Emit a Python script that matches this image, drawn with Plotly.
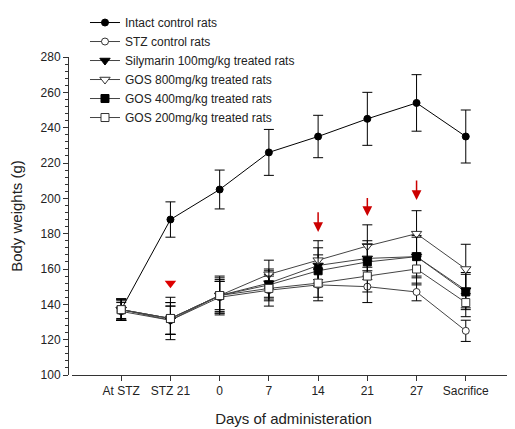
import plotly.graph_objects as go

categories = ["At STZ", "STZ 21", "0", "7", "14", "21", "27", "Sacrifice"]

intact = [137, 188, 205, 226, 235, 245, 254, 235]
intact_err = [6, 10, 11, 13, 12, 15, 16, 15]
stz = [136, 131, 144, 148, 151, 150, 147, 125]
stz_err = [5, 8, 9, 9, 9, 9, 5, 6]
silymarin = [137, 131, 145, 152, 162, 166, 167, 148]
silymarin_err = [6, 8, 8, 8, 10, 10, 12, 10]
gos800 = [137, 132, 145, 157, 165, 173, 180, 160]
gos800_err = [5, 12, 11, 8, 11, 12, 13, 14]
gos400 = [137, 132, 145, 151, 159, 164, 167, 147]
gos400_err = [6, 9, 10, 8, 9, 10, 11, 10]
gos200 = [137, 132, 145, 149, 152, 156, 160, 141]
gos200_err = [6, 9, 9, 7, 8, 9, 9, 8]

marker_cat = ["STZ 21"]
marker_val = [152]
arrow_cats = ["14", "21", "27"]
arrow_tail = [193, 201, 211]
arrow_tip = [181, 190, 199]

xpos = list(range(len(categories)))
FONT = "Liberation Sans, Arial, sans-serif"
TXT = "#222222"

series = [
    ("Intact control rats", intact, intact_err, "circle", "black", "black", "black"),
    ("STZ control rats", stz, stz_err, "circle", "white", "#333333", "#444444"),
    ("Silymarin 100mg/kg treated rats", silymarin, silymarin_err, "triangle-down", "black", "black", "#444444"),
    ("GOS 800mg/kg treated rats", gos800, gos800_err, "triangle-down", "white", "#333333", "#444444"),
    ("GOS 400mg/kg treated rats", gos400, gos400_err, "square", "black", "black", "#444444"),
    ("GOS 200mg/kg treated rats", gos200, gos200_err, "square", "white", "#333333", "#444444"),
]

fig = go.Figure()
for name, vals, errs, sym, fill, edge, lcol in series:
    size = 9 if "triangle" in sym else (7 if sym == "circle" else 8)
    fig.add_trace(go.Scatter(
        x=xpos, y=vals, name=name, mode="lines+markers",
        line=dict(color=lcol, width=1),
        marker=dict(symbol=sym, size=size, color=fill,
                    line=dict(color=edge, width=1)),
        error_y=dict(type="data", array=errs, visible=True, color="black",
                     thickness=1, width=5),
    ))

fig.add_trace(go.Scatter(
    x=[categories.index(c) for c in marker_cat], y=marker_val, mode="markers",
    marker=dict(symbol="triangle-down", size=10, color="#dd0000"),
    showlegend=False, hoverinfo="skip",
))

for c, t0, t1 in zip(arrow_cats, arrow_tail, arrow_tip):
    i = categories.index(c)
    fig.add_annotation(x=i, y=t1, ax=i, ay=t0, xref="x", yref="y",
                       axref="x", ayref="y", showarrow=True, text="",
                       arrowhead=2, arrowsize=1.3, arrowwidth=1.5,
                       arrowcolor="#cc0000")

fig.update_layout(
    width=515, height=429,
    margin=dict(l=60, r=8, t=49, b=62, autoexpand=False),
    plot_bgcolor="white", paper_bgcolor="white",
    font=dict(family=FONT, size=12, color=TXT),
    showlegend=True,
    legend=dict(x=0.038, y=1.154, xanchor="left", yanchor="top",
                bgcolor="rgba(0,0,0,0)", font=dict(size=12, color=TXT),
                tracegroupgap=0),
    xaxis=dict(
        domain=[4 / 447, 1], range=[-1, 8], automargin=False,
        tickmode="array", tickvals=xpos, ticktext=categories,
        showline=True, linecolor="#333333", linewidth=1,
        ticks="outside", ticklen=5, tickcolor="#333333",
        showgrid=False, zeroline=False,
        tickfont=dict(size=12, color=TXT),
        title=dict(text="Days of administeration", font=dict(size=15, color=TXT), standoff=16),
    ),
    yaxis=dict(
        range=[100, 280], dtick=20, anchor="free", position=0, automargin=False,
        showline=True, linecolor="#333333", linewidth=1,
        ticks="outside", ticklen=5, tickcolor="#333333",
        minor=dict(dtick=4, ticks="outside", ticklen=3, tickcolor="#333333"),
        showgrid=False, zeroline=False,
        tickfont=dict(size=12, color=TXT),
        title=dict(text="Body weights (g)", font=dict(size=15, color=TXT), standoff=21),
    ),
)

fig.write_html("out.html")
